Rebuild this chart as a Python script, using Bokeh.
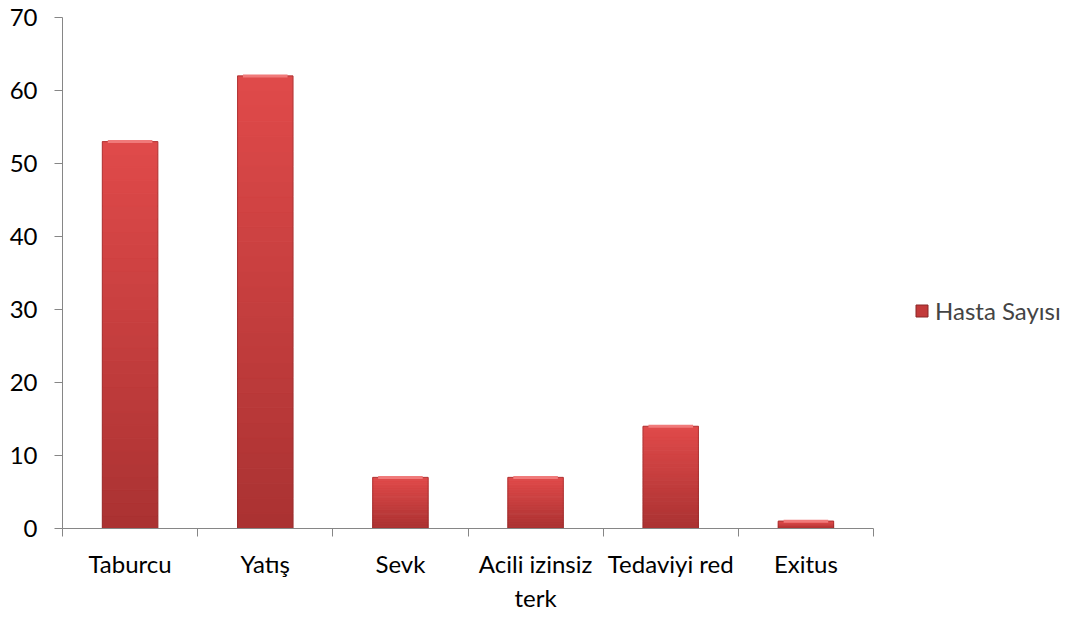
from bokeh.plotting import figure
from bokeh.models import FixedTicker, Legend, LegendItem
from bokeh.embed import file_html
from bokeh.resources import INLINE
import numpy as np

categories = ["Taburcu", "Yatış", "Sevk", "Acili izinsiz terk", "Tedaviyi red", "Exitus"]
values = [53, 62, 7, 7, 14, 1]
y_ticks = [0, 10, 20, 30, 40, 50, 60, 70]
series_name = "Hasta Sayısı"

FONT = "Lato"
n = len(categories)
xc = [i + 0.5 for i in range(n)]

# frame spans 62..1066 px; categories occupy 62..873 px
x_end = n * (1066 - 62) / (873 - 62)

p = figure(width=1066, height=615, x_range=(0, x_end), y_range=(0, 70),
           output_backend="svg", toolbar_location=None,
           min_border_left=62, min_border_top=17, min_border_bottom=87, min_border_right=0)
p.outline_line_color = None
p.xgrid.grid_line_color = None
p.ygrid.grid_line_color = None

# gradient slices
N = 30
top_c = np.array([224, 74, 74])
bot_c = np.array([170, 50, 50])
xs, bots, tops, cols = [], [], [], []
for x, v in zip(xc, values):
    for k in range(N):
        f0, f1 = k / N, (k + 1) / N
        t = (f0 + f1) / 2
        c = bot_c + (top_c - bot_c) * t
        xs.append(x); bots.append(v * f0); tops.append(v * f1)
        cols.append("#%02x%02x%02x" % tuple(int(round(a)) for a in c))
p.vbar(x=xs, bottom=bots, top=tops, width=0.41, fill_color=cols, line_color=cols, line_width=1)

p.vbar(x=xc, top=values, bottom=0, width=0.41, fill_color=None,
       line_color="#8a2626", line_alpha=0.5, line_width=1)
# top highlight
p.segment(x0=[x - 0.165 for x in xc], x1=[x + 0.165 for x in xc], y0=values, y1=values,
          line_color="#f07a7a", line_width=3)

legend_src = p.vbar(x=[0], top=[0], width=0, fill_color="#c23a3a", line_color="#8a2626")

# axes
p.yaxis.ticker = FixedTicker(ticks=y_ticks)
p.yaxis.axis_line_color = "#868686"
p.yaxis.major_tick_line_color = "#868686"
p.yaxis.major_tick_out = 8
p.yaxis.major_tick_in = 0
p.yaxis.minor_tick_line_color = None
p.yaxis.major_label_standoff = 17
p.yaxis.major_label_text_font = FONT
p.yaxis.major_label_text_font_size = "24px"
p.yaxis.major_label_text_color = "#000000"

p.xaxis.bounds = (0, n)
p.xaxis.ticker = FixedTicker(ticks=xc, minor_ticks=list(range(n + 1)))
p.xaxis.major_label_overrides = {x: (c if c != "Acili izinsiz terk" else "Acili izinsiz\nterk")
                                 for x, c in zip(xc, categories)}
p.xaxis.axis_line_color = "#868686"
p.xaxis.major_tick_line_color = None
p.xaxis.major_tick_out = 0
p.xaxis.major_tick_in = 0
p.xaxis.minor_tick_line_color = "#868686"
p.xaxis.minor_tick_out = 8
p.xaxis.minor_tick_in = 0
p.xaxis.major_label_standoff = 12
p.xaxis.major_label_text_font = FONT
p.xaxis.major_label_text_font_size = "24px"
p.xaxis.major_label_text_color = "#000000"

legend = Legend(items=[LegendItem(label=series_name, renderers=[legend_src])],
                location=(852, 203), border_line_color=None, background_fill_alpha=0,
                label_text_font=FONT, label_text_font_size="24px",
                glyph_width=15, glyph_height=15, label_standoff=6, padding=0, margin=0)
p.add_layout(legend, "center")

open("out.html", "w").write(file_html(p, INLINE))
